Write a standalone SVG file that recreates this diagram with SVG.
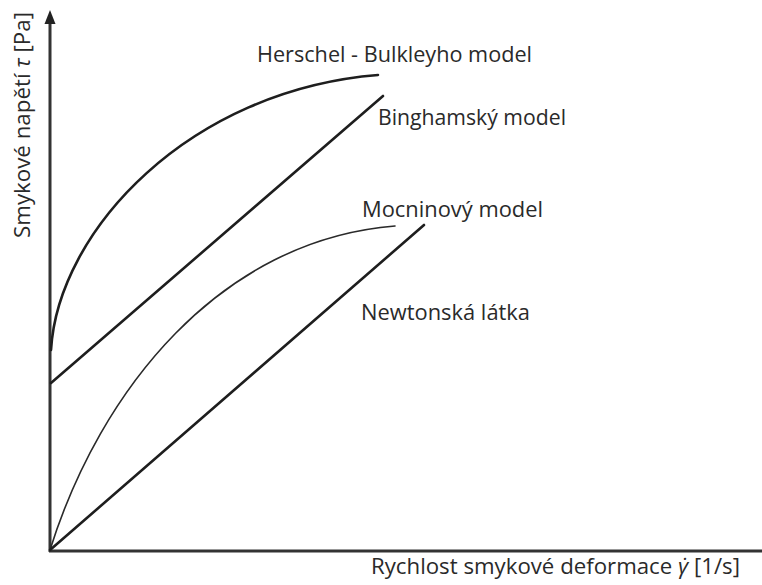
<svg xmlns="http://www.w3.org/2000/svg" width="762" height="585" viewBox="0 0 762 585">
<style>
.lbl{font-family:"Open Sans","Liberation Sans",sans-serif;font-size:21px;fill:#2a2a2a}
.ax{stroke:#333;stroke-width:3;fill:none}
.crv{stroke:#1e1e1e;stroke-width:2.6;fill:none;stroke-linecap:round}
.thin{stroke:#2a2a2a;stroke-width:1.6;fill:none;stroke-linecap:round}
</style>
<rect width="762" height="585" fill="#fff"/>
<g id="axes">
<line class="ax" x1="50" y1="22" x2="50" y2="552"/>
<polygon points="50,10 44.5,24 55.5,24" fill="#222"/>
<line class="ax" x1="49" y1="551" x2="762" y2="551"/>
<text class="lbl" transform="translate(30,238) rotate(-90)" textLength="226" lengthAdjust="spacingAndGlyphs">Smykové napětí <tspan font-style="italic">τ</tspan> [Pa]</text>
<text class="lbl" x="371" y="574" textLength="369" lengthAdjust="spacingAndGlyphs">Rychlost smykové deformace <tspan font-style="italic">γ̇</tspan> [1/s]</text>
</g>
<g id="connectors">
<path id="herschel-curve" class="crv" d="M51,350 C58,230 190,90 378,75"/>
<line id="bingham-line" class="crv" x1="51" y1="383" x2="383" y2="96"/>
<path id="power-curve" class="thin" d="M50,550 C100,390 220,240 395,226"/>
<line id="newton-line" class="crv" x1="50" y1="550" x2="424" y2="225"/>
</g>
<g id="herschel"><text class="lbl" x="257" y="62" textLength="275" lengthAdjust="spacingAndGlyphs">Herschel - Bulkleyho model</text></g>
<g id="bingham"><text class="lbl" x="378" y="125" textLength="188" lengthAdjust="spacingAndGlyphs">Binghamský model</text></g>
<g id="power"><text class="lbl" x="362" y="217" textLength="181" lengthAdjust="spacingAndGlyphs">Mocninový model</text></g>
<g id="newton"><text class="lbl" x="361" y="320" textLength="169" lengthAdjust="spacingAndGlyphs">Newtonská látka</text></g>
</svg>
